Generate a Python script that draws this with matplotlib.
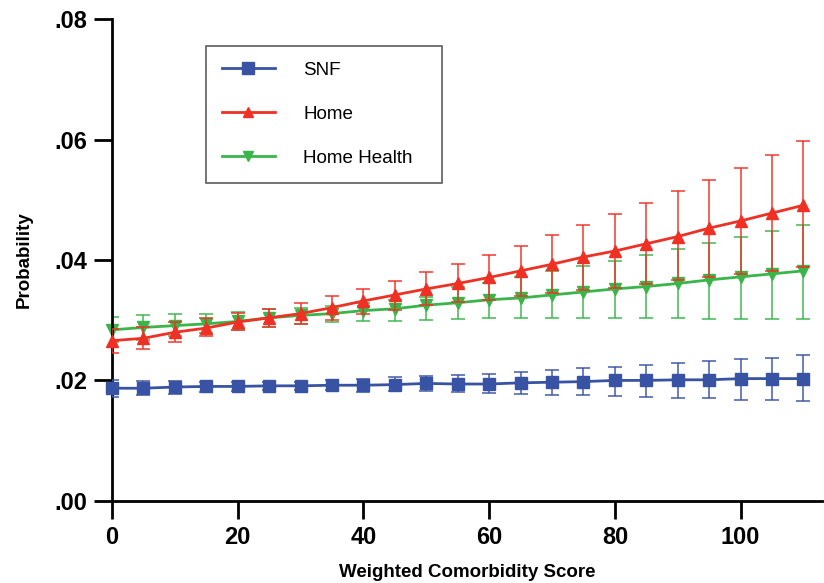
import matplotlib.pyplot as plt
import numpy as np

plt.rcParams['font.family'] = ['Liberation Sans', 'DejaVu Sans']

score = list(range(0, 111, 5))

# SNF
snf = [0.0187, 0.0187, 0.0189, 0.0190, 0.0190, 0.0191, 0.0191, 0.0192, 0.0192, 0.0193, 0.0195, 0.0194,
       0.0194, 0.0196, 0.0197, 0.0198, 0.0200, 0.0200, 0.0201, 0.0201, 0.0203, 0.0203, 0.0203]
snf_lo = [0.0173, 0.0175, 0.0177, 0.0180, 0.0182, 0.0184, 0.0184, 0.0184, 0.0181, 0.0182, 0.0183, 0.0181,
          0.0179, 0.0178, 0.0176, 0.0176, 0.0174, 0.0173, 0.0171, 0.0170, 0.0168, 0.0167, 0.0165]
snf_hi = [0.0201, 0.0199, 0.0199, 0.0198, 0.0197, 0.0197, 0.0198, 0.0200, 0.0202, 0.0205, 0.0207, 0.0209,
          0.0211, 0.0214, 0.0217, 0.0220, 0.0223, 0.0226, 0.0229, 0.0232, 0.0235, 0.0238, 0.0242]

# Home
home = [0.0266, 0.0270, 0.0280, 0.0287, 0.0297, 0.0304, 0.0311, 0.0321, 0.0332, 0.0342, 0.0352, 0.0361,
        0.0371, 0.0382, 0.0393, 0.0405, 0.0415, 0.0427, 0.0439, 0.0453, 0.0465, 0.0478, 0.0491]
home_lo = [0.0245, 0.0253, 0.0264, 0.0273, 0.0283, 0.0289, 0.0294, 0.0300, 0.0311, 0.0317, 0.0325, 0.0330,
           0.0334, 0.0340, 0.0345, 0.0351, 0.0354, 0.0360, 0.0366, 0.0372, 0.0376, 0.0382, 0.0388]
home_hi = [0.0285, 0.0289, 0.0297, 0.0303, 0.0312, 0.0319, 0.0329, 0.0341, 0.0352, 0.0365, 0.0380, 0.0393,
           0.0409, 0.0424, 0.0441, 0.0459, 0.0476, 0.0495, 0.0514, 0.0533, 0.0553, 0.0575, 0.0597]

# Home Health
hh = [0.0284, 0.0288, 0.0291, 0.0294, 0.0298, 0.0304, 0.0308, 0.0311, 0.0316, 0.0319, 0.0325, 0.0329,
      0.0334, 0.0337, 0.0342, 0.0347, 0.0352, 0.0356, 0.0361, 0.0367, 0.0372, 0.0377, 0.0382]
hh_lo = [0.0263, 0.0267, 0.0273, 0.0278, 0.0284, 0.0288, 0.0294, 0.0297, 0.0299, 0.0299, 0.0300, 0.0302,
         0.0303, 0.0303, 0.0303, 0.0303, 0.0303, 0.0303, 0.0303, 0.0302, 0.0302, 0.0302, 0.0302]
hh_hi = [0.0306, 0.0309, 0.0310, 0.0311, 0.0313, 0.0318, 0.0321, 0.0324, 0.0329, 0.0334, 0.0339, 0.0356,
         0.0362, 0.0371, 0.0381, 0.0390, 0.0399, 0.0409, 0.0418, 0.0428, 0.0438, 0.0448, 0.0459]

blue = '#3953a4'
red = '#ee3124'
green = '#3ab54a'

fig = plt.figure(figsize=(8.24, 5.83), dpi=100)
ax = fig.add_axes([0.136, 0.141, 0.862, 0.826])


def draw(y, lo, hi, color, marker, ms, label, z):
    y = np.array(y)
    err = [y - np.array(lo), np.array(hi) - y]
    ax.errorbar(score, y, yerr=err, fmt='none', ecolor=color, elinewidth=1.4,
                capsize=5, capthick=1.4, alpha=0.75, zorder=z)
    line, = ax.plot(score, y, color=color, lw=2, marker=marker, ms=ms,
                    label=label, zorder=z + 0.5, clip_on=False)
    return line


l3 = draw(hh, hh_lo, hh_hi, green, 'v', 8, 'Home Health', 2)
l2 = draw(home, home_lo, home_hi, red, '^', 8, 'Home', 3)
l1 = draw(snf, snf_lo, snf_hi, blue, 's', 9, 'SNF', 4)

ax.set_xlim(0, 113)
ax.set_ylim(0, 0.08)
ax.set_xticks([0, 20, 40, 60, 80, 100])
ax.set_yticks([0, 0.02, 0.04, 0.06, 0.08])
ax.set_yticklabels(['.00', '.02', '.04', '.06', '.08'])

for s in ['top', 'right']:
    ax.spines[s].set_visible(False)
for s in ['left', 'bottom']:
    ax.spines[s].set_linewidth(2)
ax.tick_params(width=2, length=13, labelsize=17, pad=5)
for t in ax.get_xticklabels() + ax.get_yticklabels():
    t.set_fontweight('bold')

ax.set_xlabel('Weighted Comorbidity Score', fontsize=13.5, fontweight='bold', labelpad=11)
ax.set_ylabel('Probability', fontsize=13.5, fontweight='bold', labelpad=15)

leg = ax.legend(handles=[l1, l2, l3], loc='upper left', bbox_to_anchor=(0.132, 0.0, 0.332, 0.945),
                mode='expand', borderaxespad=0, fontsize=13.6, frameon=True, fancybox=False,
                handlelength=2.8, handletextpad=1.5, labelspacing=1.42,
                borderpad=0.85, markerscale=0.9)
leg.get_frame().set_edgecolor('#333333')
leg.get_frame().set_linewidth(1.2)

fig.savefig('out.png', dpi=100)
